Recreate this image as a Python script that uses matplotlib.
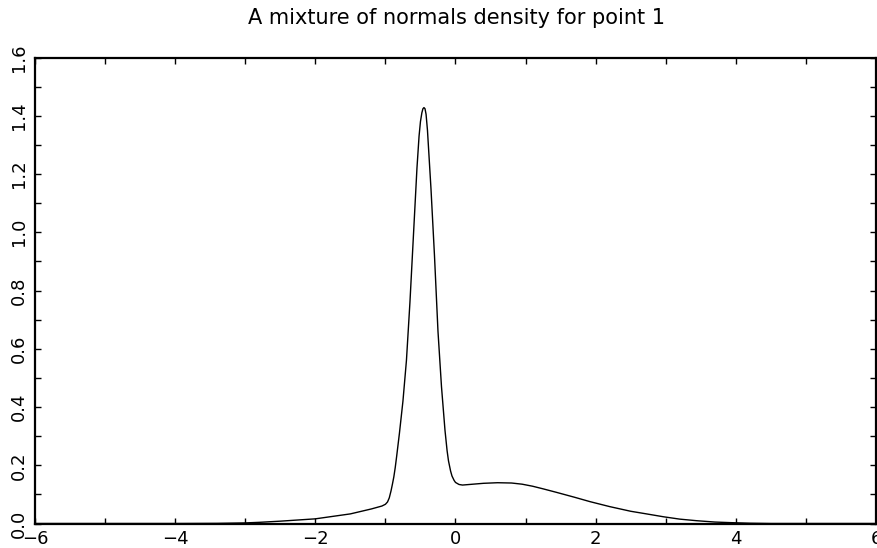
import matplotlib
matplotlib.use("Agg")
import matplotlib.pyplot as plt
from matplotlib.ticker import MultipleLocator, FormatStrFormatter

# density curve (x, density)
x_vals = [-6.0, -4.0, -3.4, -3.0, -2.8, -2.5, -2.0, -1.5, -1.2, -1.05,
          -1.00, -0.97, -0.945, -0.92, -0.90, -0.88, -0.86, -0.84, -0.80, -0.75,
          -0.70, -0.65, -0.60, -0.55, -0.52, -0.50, -0.48, -0.465, -0.45, -0.435,
          -0.42, -0.40, -0.38, -0.35, -0.30, -0.25, -0.20, -0.15, -0.12, -0.10,
          -0.07, -0.05, -0.02, 0.00, 0.05, 0.10, 0.20, 0.40, 0.60, 0.80,
          0.95, 1.10, 1.25, 1.44, 1.70, 1.92, 2.20, 2.50, 2.70, 2.97,
          3.20, 3.44, 3.70, 3.92, 4.20, 4.50, 6.0]
density = [0.0, 0.0, 0.0005, 0.002, 0.004, 0.008, 0.016, 0.033, 0.050, 0.060,
           0.066, 0.074, 0.088, 0.112, 0.135, 0.160, 0.192, 0.230, 0.310, 0.420,
           0.560, 0.760, 0.990, 1.220, 1.330, 1.380, 1.410, 1.424, 1.428, 1.424,
           1.405, 1.350, 1.270, 1.150, 0.920, 0.660, 0.470, 0.320, 0.250, 0.215,
           0.180, 0.163, 0.148, 0.141, 0.134, 0.132, 0.134, 0.138, 0.140, 0.139,
           0.135, 0.128, 0.119, 0.107, 0.090, 0.075, 0.058, 0.042, 0.034, 0.023,
           0.015, 0.0096, 0.005, 0.003, 0.001, 0.0, 0.0]

title = "A mixture of normals density for point 1"

fig = plt.figure(figsize=(8.77, 5.48), dpi=100)
ax = fig.add_axes([35 / 877, 24.5 / 548, 841 / 877, 466 / 548])

ax.plot(x_vals, density, color="black", linewidth=1.0)

ax.set_xlim(-6, 6)
ax.set_ylim(0, 1.6)

ax.xaxis.set_major_locator(MultipleLocator(2))
ax.xaxis.set_minor_locator(MultipleLocator(1))
ax.yaxis.set_major_locator(MultipleLocator(0.2))
ax.yaxis.set_minor_locator(MultipleLocator(0.1))
ax.yaxis.set_major_formatter(FormatStrFormatter("%.1f"))

for which in ("major", "minor"):
    ax.tick_params(axis="both", which=which, direction="in", length=4,
                   width=1.0, top=True, right=True, labelsize=13, pad=5)
ax.tick_params(axis="y", which="major", labelrotation=90)
for lab in ax.get_yticklabels():
    lab.set_verticalalignment("center")

for sp in ax.spines.values():
    sp.set_linewidth(1.6)

fig.text(0.52, 1 - 18 / 548, title, ha="center", va="center", fontsize=15)

fig.savefig("out.png", dpi=100)
